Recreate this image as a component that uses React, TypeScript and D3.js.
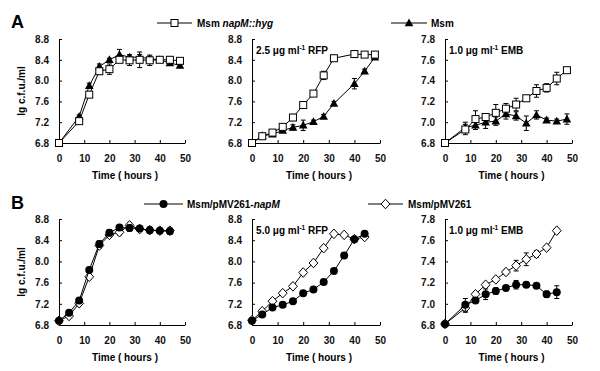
import * as d3 from 'd3';
import { useEffect, useRef } from 'react';

// ---- data ----
// Panel A: Msm napM::hyg (squares) vs Msm (triangles)
const tA1 = [0, 8, 12, 16, 20, 24, 28, 32, 36, 40, 44, 48];
const a1Hyg = [6.8, 7.22, 7.73, 8.18, 8.22, 8.4, 8.39, 8.4, 8.39, 8.4, 8.4, 8.38];
const a1HygErr = [0, 0.03, 0.05, 0.06, 0.1, 0.05, 0.1, 0.15, 0.1, 0.05, 0.05, 0.04];
const a1Msm = [6.8, 7.31, 7.9, 8.27, 8.4, 8.5, 8.45, 8.45, 8.42, 8.4, 8.34, 8.29];
const a1MsmErr = [0, 0.03, 0.05, 0.05, 0.03, 0.1, 0.05, 0.05, 0.05, 0.04, 0.03, 0.03];

const tA2 = [0, 4, 8, 12, 16, 20, 24, 28, 32, 40, 44, 48];
const a2Hyg = [6.8, 6.93, 7.0, 7.11, 7.29, 7.53, 7.75, 8.1, 8.43, 8.51, 8.5, 8.5];
const a2HygErr = [0, 0.02, 0.03, 0.04, 0.06, 0.04, 0.03, 0.08, 0.02, 0.06, 0.04, 0.04];
const a2Msm = [6.8, 6.94, 6.97, 7.04, 7.1, 7.14, 7.21, 7.31, 7.56, 7.94, 8.18, 8.45];
const a2MsmErr = [0, 0.03, 0.03, 0.03, 0.05, 0.1, 0.03, 0.04, 0.04, 0.1, 0.04, 0.04];

const tA3 = [0, 8, 12, 16, 20, 24, 28, 32, 36, 40, 44, 48];
const a3Hyg = [6.8, 6.93, 7.03, 7.05, 7.09, 7.13, 7.17, 7.23, 7.3, 7.33, 7.42, 7.5];
const a3HygErr = [0, 0.05, 0.08, 0.03, 0.08, 0.05, 0.06, 0.02, 0.06, 0.04, 0.06, 0.02];
const a3Msm = [6.8, 6.95, 6.97, 7.0, 7.01, 7.08, 7.06, 6.99, 7.07, 7.02, 7.01, 7.03];
const a3MsmErr = [0, 0.05, 0.04, 0.06, 0.04, 0.05, 0.04, 0.07, 0.04, 0.02, 0.02, 0.05];

// Panel B: Msm/pMV261-napM (circles) vs Msm/pMV261 (diamonds)
const tB1 = [0, 4, 8, 12, 16, 20, 24, 28, 32, 36, 40, 44];
const b1NapM = [6.88, 7.03, 7.26, 7.84, 8.33, 8.54, 8.64, 8.63, 8.62, 8.59, 8.58, 8.57];
const b1NapMErr = [0.02, 0.03, 0.03, 0.05, 0.06, 0.06, 0.05, 0.06, 0.04, 0.06, 0.05, 0.06];
const b1Vec = [6.88, 6.97, 7.21, 7.71, 8.3, 8.5, 8.55, 8.68, 8.61, 8.59, 8.58, 8.58];
const b1VecErr = [0.02, 0.03, 0.03, 0.04, 0.05, 0.05, 0.05, 0.05, 0.04, 0.04, 0.04, 0.04];

const tB2 = [0, 4, 8, 12, 16, 20, 24, 28, 32, 36, 40, 44];
const b2NapM = [6.88, 7.0, 7.13, 7.18, 7.25, 7.4, 7.47, 7.61, 7.82, 8.11, 8.42, 8.52];
const b2NapMErr = [0.02, 0.02, 0.02, 0.02, 0.02, 0.02, 0.02, 0.02, 0.02, 0.02, 0.02, 0.03];
const b2Vec = [6.89, 7.06, 7.25, 7.4, 7.53, 7.79, 7.97, 8.25, 8.52, 8.5, 8.42, 8.46];
const b2VecErr = [0.02, 0.02, 0.03, 0.03, 0.04, 0.03, 0.03, 0.04, 0.03, 0.02, 0.02, 0.03];

const tB3 = [0, 8, 12, 16, 20, 24, 28, 32, 36, 40, 44];
const b3NapM = [6.81, 6.99, 7.03, 7.09, 7.12, 7.15, 7.18, 7.18, 7.17, 7.09, 7.11];
const b3NapMErr = [0.01, 0.06, 0.02, 0.05, 0.03, 0.02, 0.04, 0.02, 0.02, 0.03, 0.06];
const b3Vec = [6.81, 6.96, 7.09, 7.18, 7.23, 7.3, 7.36, 7.42, 7.47, 7.53, 7.69];
const b3VecErr = [0.01, 0.04, 0.02, 0.02, 0.02, 0.02, 0.05, 0.06, 0.03, 0.02, 0.02];

const xTicks = [0, 10, 20, 30, 40, 50];
const yTicksRfp = [6.8, 7.2, 7.6, 8.0, 8.4, 8.8];
const yTicksEmb = [6.8, 7.0, 7.2, 7.4, 7.6, 7.8];

const FONT = '"Liberation Sans", Arial, sans-serif';

export default function App() {
  const ref = useRef(null);

  useEffect(() => {
    const svg = d3.select(ref.current);
    svg.selectAll('*').remove();

    const cols = [[59, 185], [252, 380], [445, 572]];
    const rows = [[39, 143], [219, 325]];

    const panels = [
      { row: 0, col: 0, t: tA1, yTicks: yTicksRfp, series: [
        { v: a1Msm, e: a1MsmErr, shape: 'triangle' }, { v: a1Hyg, e: a1HygErr, shape: 'square' }] },
      { row: 0, col: 1, t: tA2, yTicks: yTicksRfp, label: ['2.5 μg ml', 'RFP'], series: [
        { v: a2Msm, e: a2MsmErr, shape: 'triangle' }, { v: a2Hyg, e: a2HygErr, shape: 'square' }] },
      { row: 0, col: 2, t: tA3, yTicks: yTicksEmb, label: ['1.0 μg ml', 'EMB'], series: [
        { v: a3Msm, e: a3MsmErr, shape: 'triangle' }, { v: a3Hyg, e: a3HygErr, shape: 'square' }] },
      { row: 1, col: 0, t: tB1, yTicks: yTicksRfp, series: [
        { v: b1Vec, e: b1VecErr, shape: 'diamond' }, { v: b1NapM, e: b1NapMErr, shape: 'circle' }] },
      { row: 1, col: 1, t: tB2, yTicks: yTicksRfp, label: ['5.0 μg ml', 'RFP'], series: [
        { v: b2Vec, e: b2VecErr, shape: 'diamond' }, { v: b2NapM, e: b2NapMErr, shape: 'circle' }] },
      { row: 1, col: 2, t: tB3, yTicks: yTicksEmb, label: ['1.0 μg ml', 'EMB'], series: [
        { v: b3Vec, e: b3VecErr, shape: 'diamond' }, { v: b3NapM, e: b3NapMErr, shape: 'circle' }] },
    ];

    const drawMarker = (g, shape, x, y) => {
      if (shape === 'square') {
        g.append('rect').attr('x', x - 3.5).attr('y', y - 3.5).attr('width', 7).attr('height', 7)
          .attr('fill', 'white').attr('stroke', 'black').attr('stroke-width', 1);
      } else if (shape === 'triangle') {
        g.append('path').attr('d', `M${x},${y - 4.5}L${x + 4.3},${y + 3.3}L${x - 4.3},${y + 3.3}Z`).attr('fill', 'black');
      } else if (shape === 'circle') {
        g.append('circle').attr('cx', x).attr('cy', y).attr('r', 4).attr('fill', 'black');
      } else {
        g.append('path').attr('d', `M${x},${y - 4.8}L${x + 4.4},${y}L${x},${y + 4.8}L${x - 4.4},${y}Z`)
          .attr('fill', 'white').attr('stroke', 'black').attr('stroke-width', 1);
      }
    };

    panels.forEach(p => {
      const [x0, x1] = cols[p.col];
      const [y0, y1] = rows[p.row];
      const x = d3.scaleLinear().domain([0, 50]).range([x0, x1]);
      const y = d3.scaleLinear().domain([p.yTicks[0], p.yTicks[p.yTicks.length - 1]]).range([y1, y0]);
      const g = svg.append('g');

      // axes
      const xa = g.append('g').attr('transform', `translate(0,${y1})`)
        .call(d3.axisBottom(x).tickValues(xTicks).tickSize(-3).tickSizeOuter(0).tickPadding(9));
      const ya = g.append('g').attr('transform', `translate(${x0},0)`)
        .call(d3.axisLeft(y).tickValues(p.yTicks).tickSize(-3).tickSizeOuter(0).tickPadding(10)
          .tickFormat(d3.format('.1f')));
      [xa, ya].forEach(a => {
        a.selectAll('path,line').attr('stroke', 'black').attr('stroke-width', 1);
        a.selectAll('text').attr('font-family', FONT).attr('font-size', 10).attr('font-weight', 'bold').attr('fill', '#111');
      });
      xa.selectAll('text').attr('dy', '0.95em');

      g.append('text').attr('x', (x0 + x1) / 2 + 3).attr('y', y1 + 36).attr('text-anchor', 'middle')
        .attr('font-family', FONT).attr('font-size', 10).attr('font-weight', 'bold').text('Time ( hours )');

      if (p.label) {
        const t = g.append('text').attr('x', x(1.6)).attr('y', y0 + 15)
          .attr('font-family', FONT).attr('font-size', 10).attr('font-weight', 'bold');
        t.append('tspan').text(p.label[0]);
        t.append('tspan').attr('font-size', 6.5).attr('dy', -4).text('-1');
        t.append('tspan').attr('dy', 4).text(' ' + p.label[1]);
      }

      p.series.forEach(s => {
        const pts = p.t.map((tt, i) => ({ t: tt, v: s.v[i], e: s.e[i] }));
        g.append('path').datum(pts)
          .attr('d', d3.line().x(d => x(d.t)).y(d => y(d.v)))
          .attr('fill', 'none').attr('stroke', 'black').attr('stroke-width', 1);
        pts.forEach(d => {
          if (d.e > 0) {
            const cx = x(d.t), ya0 = y(d.v - d.e), ya1 = y(d.v + d.e);
            g.append('line').attr('x1', cx).attr('x2', cx).attr('y1', ya0).attr('y2', ya1).attr('stroke', 'black');
            [ya0, ya1].forEach(yy => g.append('line').attr('x1', cx - 2.5).attr('x2', cx + 2.5)
              .attr('y1', yy).attr('y2', yy).attr('stroke', 'black'));
          }
        });
        pts.forEach(d => drawMarker(g, s.shape, x(d.t), y(d.v)));
      });
    });

    // y labels and panel letters
    [[91, 'A', 28], [272, 'B', 209]].forEach(([cy, letter, ly]) => {
      svg.append('text').attr('transform', `translate(25,${cy}) rotate(-90)`).attr('text-anchor', 'middle')
        .attr('font-family', FONT).attr('font-size', 10).attr('font-weight', 'bold').text('lg c.f.u./ml');
      svg.append('text').attr('x', 11).attr('y', ly).attr('font-family', FONT).attr('font-size', 18)
        .attr('font-weight', 'bold').text(letter);
    });

    // legends
    const legends = [
      { x1: 157, x2: 192, y: 23, shape: 'square', tx: 197, parts: [['Msm ', 'normal'], ['napM::hyg', 'italic']] },
      { x1: 391, x2: 427, y: 23, shape: 'triangle', tx: 431, parts: [['Msm', 'normal']] },
      { x1: 144, x2: 183, y: 204, shape: 'circle', tx: 187, parts: [['Msm/pMV261-', 'normal'], ['napM', 'italic']] },
      { x1: 368, x2: 403, y: 204, shape: 'diamond', tx: 408, parts: [['Msm/pMV261', 'normal']] },
    ];
    legends.forEach(l => {
      svg.append('line').attr('x1', l.x1).attr('x2', l.x2).attr('y1', l.y).attr('y2', l.y).attr('stroke', 'black');
      drawMarker(svg, l.shape, (l.x1 + l.x2) / 2, l.y);
      const t = svg.append('text').attr('x', l.tx).attr('y', l.y + 3.5)
        .attr('font-family', FONT).attr('font-size', 10).attr('font-weight', 'bold');
      l.parts.forEach(([s, st]) => t.append('tspan').attr('font-style', st).text(s));
    });
  }, []);

  return (
    <div style={{ position: 'absolute', left: 0, top: 0, background: 'white' }}>
      <svg ref={ref} width={600} height={371} />
    </div>
  );
}
